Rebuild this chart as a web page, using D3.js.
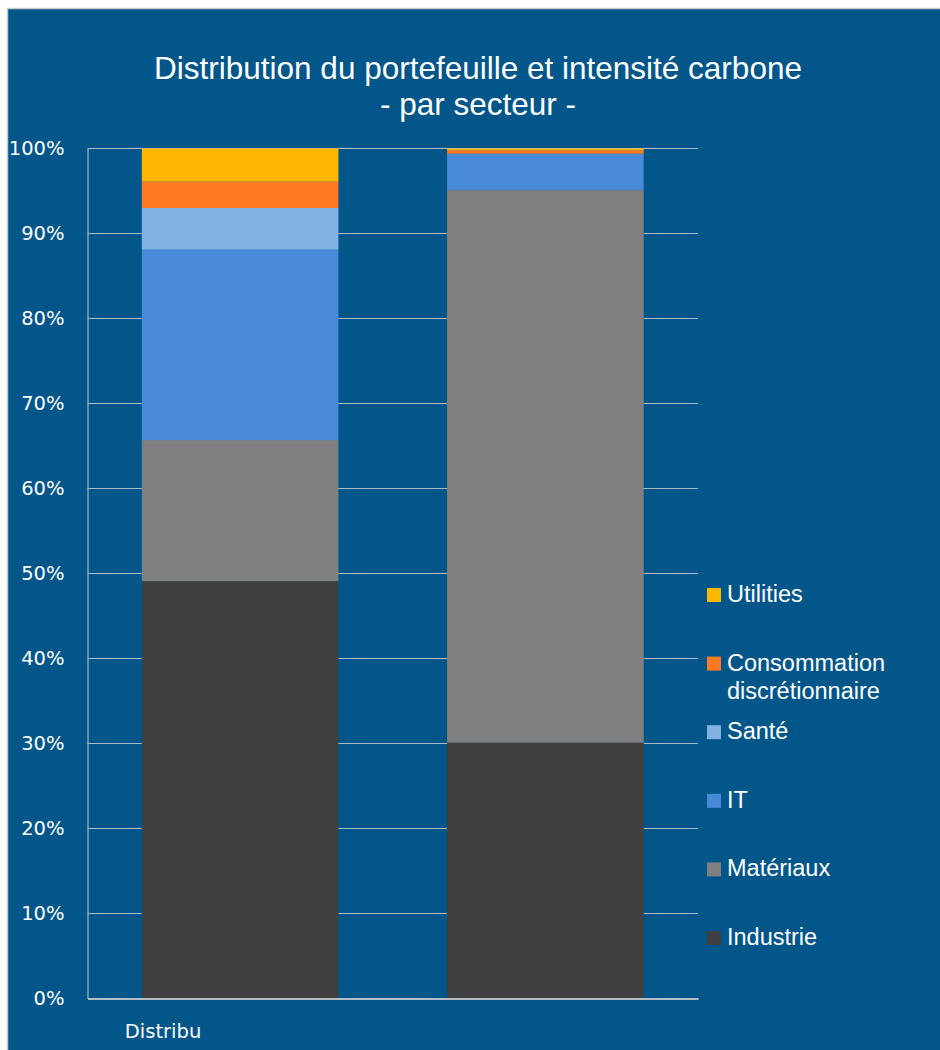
<!DOCTYPE html>
<html>
<head>
<meta charset="utf-8">
<script src="https://cdn.jsdelivr.net/npm/d3@7"></script>
<style>
  body { margin: 0; background: #fff; }
</style>
</head>
<body>
<main></main>
<script>
// data
let categories = ["Distribu", ""]
let sectors = ["Industrie", "Matériaux", "IT", "Santé", "Consommation discrétionnaire", "Utilities"]
let industrie = [49.1, 30.1]
let materiaux = [16.6, 65.0]
let it = [22.4, 4.2]
let sante = [4.9, 0.1]
let conso = [3.1, 0.4]
let utilities = [3.9, 0.2]
let yTicks = [0, 10, 20, 30, 40, 50, 60, 70, 80, 90, 100]

let colors = ["#404040", "#808080", "#488ad7", "#82b1e4", "#fd7a22", "#ffb701"]
let seriesValues = [industrie, materiaux, it, sante, conso, utilities]

// table for the stack
let rows = categories.map((c, i) => {
    let r = { cat: c }
    sectors.forEach((s, j) => r[s] = seriesValues[j][i])
    return r
})

let svg = d3.select('main').append('svg')
    .attr('width', 940)
    .attr('height', 1050)
    .style('display', 'block')

// frame
svg.append('rect')
    .attr('x', 7.5).attr('y', 8.5)
    .attr('width', 940).attr('height', 1050)
    .attr('fill', '#02568a')
    .attr('stroke', '#c9c9c9')
    .attr('stroke-width', 1.5)

let x = d3.scaleBand()
    .domain(categories.map((c, i) => i))
    .range([87.5, 698])
    .paddingInner(0.356)
    .paddingOuter(0.178)

let y = d3.scaleLinear()
    .domain([0, 100])
    .range([998.5, 148.5])

// gridlines
svg.append('g')
    .selectAll('line')
    .data(yTicks.slice(1))
    .join('line')
    .attr('x1', 87.5).attr('x2', 698)
    .attr('y1', d => y(d)).attr('y2', d => y(d))
    .attr('stroke', '#a9bac8')
    .attr('stroke-width', 1.2)

// y axis labels
let yAxis = svg.append('g')
    .attr('transform', 'translate(87.5,0)')
    .call(d3.axisLeft(y).tickValues(yTicks).tickFormat(d => d + '%').tickSize(0).tickPadding(23))
yAxis.select('.domain').attr('stroke', '#a9b4be').attr('stroke-width', 1.2)
yAxis.selectAll('text')
    .attr('fill', '#fff')
    .style('font-family', '"DejaVu Sans", sans-serif')
    .style('font-size', '19.5px')

// stacked bars
let stack = d3.stack().keys(sectors)
let layers = stack(rows)

svg.append('g')
    .selectAll('g')
    .data(layers)
    .join('g')
    .attr('fill', (d, i) => colors[i])
    .selectAll('rect')
    .data(d => d)
    .join('rect')
    .attr('x', (d, i) => x(i))
    .attr('width', x.bandwidth())
    .attr('y', d => y(d[1]))
    .attr('height', d => y(d[0]) - y(d[1]))

// x axis
let xAxis = svg.append('g')
    .attr('transform', 'translate(0,998.5)')
    .call(d3.axisBottom(x).tickSize(0).tickFormat(i => categories[i]))
xAxis.select('.domain').attr('stroke', '#b5bcc3').attr('stroke-width', 2)
xAxis.selectAll('text')
    .attr('fill', '#fff')
    .attr('text-anchor', 'start')
    .attr('dx', d => -x.bandwidth() / 2 - 17)
    .attr('y', 39)
    .attr('dy', 0)
    .style('font-family', '"DejaVu Sans", sans-serif')
    .style('font-size', '19.5px')

// title
let title = svg.append('text')
    .attr('x', 478)
    .attr('text-anchor', 'middle')
    .attr('fill', '#fff')
    .style('font-family', '"Liberation Sans", Arial, sans-serif')
    .style('font-size', '31.5px')
title.append('tspan').attr('x', 478).attr('y', 79).text('Distribution du portefeuille et intensité carbone')
title.append('tspan').attr('x', 478).attr('y', 115).text('- par secteur -')

// legend (top entry is the last series)
let legendItems = sectors.slice().reverse()
let legendColors = colors.slice().reverse()
let leg = svg.append('g')
legendItems.forEach((s, i) => {
    let by = 602 + i * 68.6
    leg.append('rect')
        .attr('x', 707).attr('y', by - 14)
        .attr('width', 14).attr('height', 14)
        .attr('fill', legendColors[i])
    let t = leg.append('text')
        .attr('x', 727).attr('y', by)
        .attr('fill', '#fff')
        .style('font-family', '"Liberation Sans", Arial, sans-serif')
        .style('font-size', '23.5px')
    let words = s === "Consommation discrétionnaire" ? ["Consommation", "discrétionnaire"] : [s]
    words.forEach((w, k) => t.append('tspan').attr('x', 727).attr('y', by + k * 28.5).text(w))
})
</script>
</body>
</html>
